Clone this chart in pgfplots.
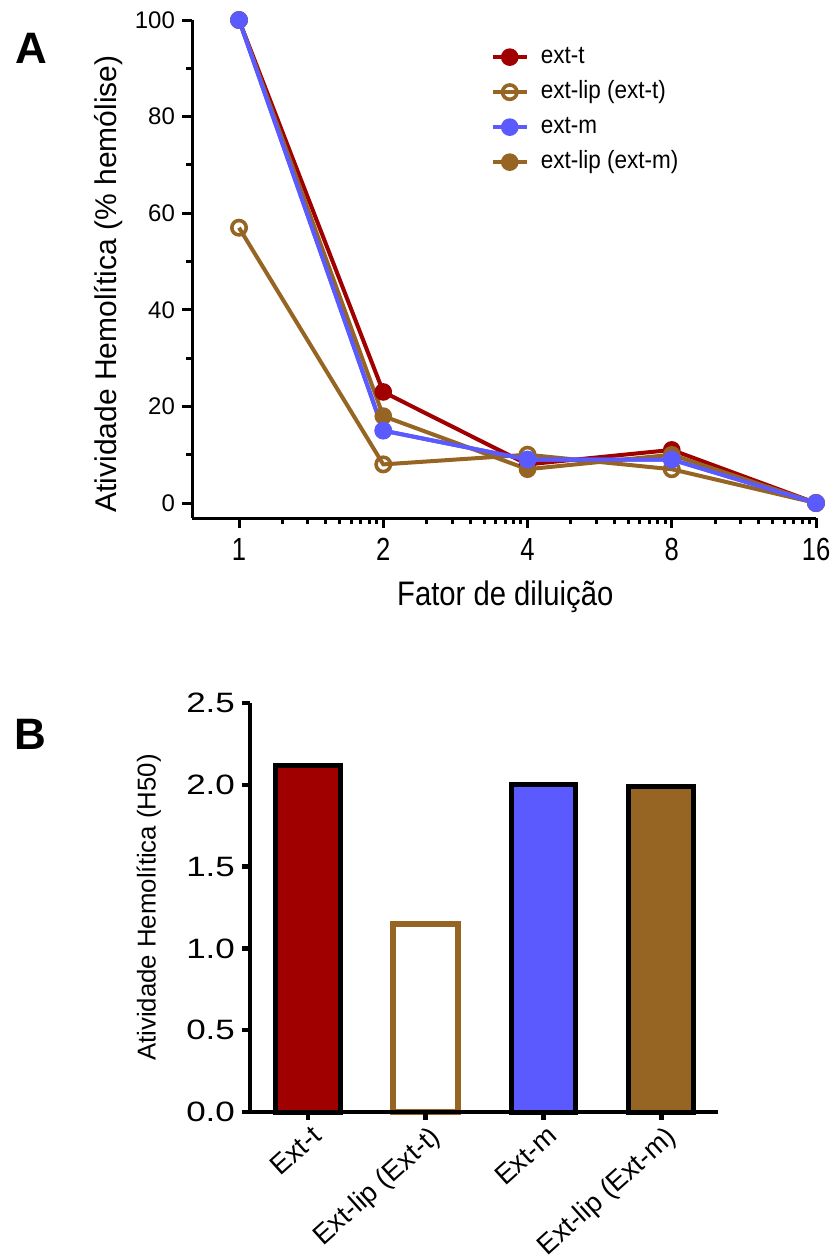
\documentclass[border=0pt]{standalone}
\usepackage{pgfplots}
\pgfplotsset{compat=1.18}
\usepackage{fontspec}
\setmainfont{Liberation Sans}
\newfontfamily\narrowfont{Liberation Sans}[FakeStretch=0.8]
\newfontfamily\labfont{Liberation Sans}[FakeStretch=0.86]
\newfontfamily\legfont{Liberation Sans}[FakeStretch=0.9]
\newfontfamily\widefont{Liberation Sans}[FakeStretch=1.25]
\definecolor{cred}{RGB}{160,0,0}
\definecolor{cbrown}{RGB}{150,100,35}
\definecolor{cblue}{RGB}{90,90,255}
\begin{document}
\begin{tikzpicture}
\useasboundingbox (0,0) rectangle (416.5pt,-630pt);
\node[anchor=north west, inner sep=0pt, font=\bfseries\fontsize{22}{22}\selectfont] at (7.5pt,-16.5pt) {A};
\node[anchor=north west, inner sep=0pt, font=\bfseries\fontsize{22}{22}\selectfont] at (7pt,-359.5pt) {B};
% ---------------- Panel A ----------------
% x is plotted at log2(dilution factor): 0,1,2,3,4 = 1,2,4,8,16
\begin{axis}[
  at={(96pt,-259pt)}, anchor=south west,
  scale only axis, width=312pt, height=249pt,
  xmin=-0.326, xmax=4, ymin=-3.1, ymax=100,
  axis x line*=bottom, axis y line*=left,
  axis line style={line width=1.5pt,-},
  xtick={0,1,2,3,4}, xticklabels={1,2,4,8,16},
  minor xtick={0.30103,0.47712,0.60206,0.69897,0.77815,0.84510,0.90309,0.95424,
    1.30103,1.47712,1.60206,1.69897,1.77815,1.84510,1.90309,1.95424,
    2.30103,2.47712,2.60206,2.69897,2.77815,2.84510,2.90309,2.95424,
    3.30103,3.47712,3.60206,3.69897,3.77815,3.84510,3.90309,3.95424},
  ytick={0,20,40,60,80,100}, minor ytick={10,30,50,70,90},
  tick style={line width=1.5pt, black},
  major tick length=5pt, minor tick length=3pt,
  tick align=outside,
  /pgf/number format/assume math mode=true,
  xticklabel style={font=\narrowfont\fontsize{16}{16}\selectfont, yshift=-1.5pt},
  yticklabel style={font=\fontsize{12}{12}\selectfont},
  xlabel={Fator de diluição},
  ylabel={Atividade Hemolítica (\% hemólise)},
  xlabel style={font=\labfont\fontsize{17}{17}\selectfont, at={(axis description cs:0.502,-0.159)}, anchor=center},
  ylabel style={font=\fontsize{15}{15}\selectfont, at={(axis description cs:-0.134,0.47)}, anchor=center},
  legend style={draw=none, fill=none, inner sep=0pt, at={(axis description cs:0.478,0.82)}, anchor=west,
    font=\legfont\fontsize{12.5}{12.5}\selectfont, row sep=3.5pt, column sep=5pt,
    nodes={inner sep=1pt, text height=9pt, text depth=3pt}},
  legend cell align=left,
  clip=false,
]
\addplot[color=cred, line width=2pt, mark=*, mark size=3.6pt, mark options={solid, fill=cred, line width=1.6pt}]
  coordinates {(0,100) (1,23) (2,8) (3,11) (4,0)};
\addlegendentry{ext-t}
\addplot[color=cbrown, line width=2pt, mark=o, mark size=3.6pt, mark options={solid, line width=1.8pt}]
  coordinates {(0,57) (1,8) (2,10) (3,7) (4,0)};
\addlegendentry{ext-lip (ext-t)}
\addplot[color=cblue, line width=2pt, mark=*, mark size=3.6pt, mark options={solid, fill=cblue, line width=1.6pt}]
  coordinates {(0,100) (1,15) (2,9) (3,9) (4,0)};
\addlegendentry{ext-m}
\addplot[color=cbrown, line width=2pt, mark=*, mark size=3.6pt, mark options={solid, fill=cbrown, line width=1.6pt}]
  coordinates {(0,100) (1,18) (2,7) (3,10) (4,0)};
\addlegendentry{ext-lip (ext-m)}
\addplot[forget plot, color=cblue, line width=2pt, mark=*, mark size=3.6pt, mark options={solid, fill=cblue, line width=1.6pt}]
  coordinates {(0,100) (1,15) (2,9) (3,9) (4,0)};
\end{axis}
% ---------------- Panel B ----------------
\begin{axis}[
  at={(125pt,-556pt)}, anchor=south west,
  scale only axis, width=234pt, height=204.5pt,
  xmin=-0.49, xmax=3.48, ymin=0, ymax=2.5,
  axis x line*=bottom, axis y line*=left,
  axis line style={line width=2.2pt,-},
  xtick={0,1,2,3},
  xticklabels={Ext-t, Ext-lip (Ext-t), Ext-m, Ext-lip (Ext-m)},
  ytick={0,0.5,1,1.5,2,2.5},
  tick style={line width=2.2pt, black},
  major tick length=4pt, tick align=outside,
  /pgf/number format/assume math mode=true,
  yticklabel style={font=\widefont\fontsize{14}{14}\selectfont,
    /pgf/number format/.cd, fixed, fixed zerofill, precision=1},
  xticklabel style={font=\fontsize{13.8}{13.8}\selectfont, rotate=42, anchor=north east, xshift=3pt, yshift=1pt},
  ylabel={Atividade Hemolítica (H50)},
  ylabel style={font=\fontsize{12.9}{12.9}\selectfont, at={(axis description cs:-0.216,0.5)}, anchor=center},
  bar width=0.55,
  axis on top,
  clip=false,
]
\addplot[ybar, fill=cred, draw=black, line width=2.5pt] coordinates {(0,2.12)};
\addplot[ybar, fill=white, draw=cbrown, line width=3pt] coordinates {(1,1.15)};
\addplot[ybar, fill=cblue, draw=black, line width=2.5pt] coordinates {(2,2.00)};
\addplot[ybar, fill=cbrown, draw=black, line width=2.5pt] coordinates {(3,1.99)};
\end{axis}
\end{tikzpicture}
\end{document}
